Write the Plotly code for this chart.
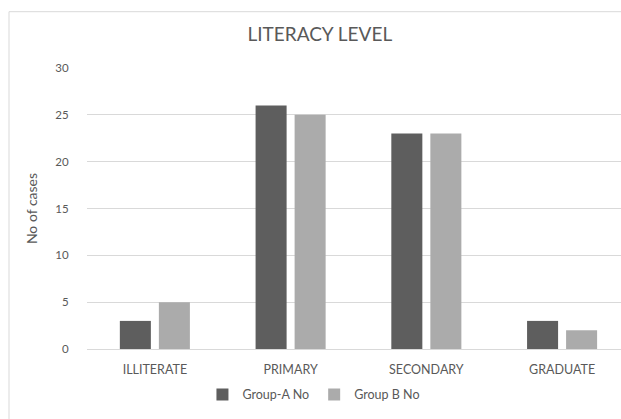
import plotly.graph_objects as go

categories = ["ILLITERATE", "PRIMARY", "SECONDARY", "GRADUATE"]
group_a = [3, 26, 23, 3]
group_b = [5, 25, 23, 2]
y_ticks = [0, 5, 10, 15, 20, 25, 30]

FONT = "Lato"
TXT = "#595959"

fig = go.Figure()
fig.add_trace(go.Bar(name="Group-A No", x=categories, y=group_a, marker_color="#5e5e5e", marker_line_width=0))
fig.add_trace(go.Bar(name="Group B No", x=categories, y=group_b, marker_color="#ababab", marker_line_width=0))

fig.update_layout(
    width=621, height=419,
    margin=dict(l=87, r=0, t=67.5, b=69.5, autoexpand=False),
    paper_bgcolor="white", plot_bgcolor="white",
    barmode="group", bargap=0.425, bargroupgap=0.205,
    font=dict(family=FONT, color=TXT, size=11),
    title=dict(text="LITERACY LEVEL", x=0.515, xref="container", xanchor="center",
               y=1 - 34 / 419, yref="container", yanchor="middle",
               font=dict(family=FONT, size=19, color=TXT)),
    xaxis=dict(type="category", range=[-0.5, 3.434], showgrid=False, showline=False,
               ticks="outside", ticklen=9, tickcolor="rgba(0,0,0,0)",
               tickfont=dict(size=12.5, color=TXT)),
    yaxis=dict(range=[0, 30], tickvals=y_ticks, showgrid=True, gridcolor="#d9d9d9", gridwidth=1,
               zeroline=True, zerolinecolor="#d9d9d9", zerolinewidth=1, showline=False,
               ticks="outside", ticklen=15, tickcolor="rgba(0,0,0,0)",
               tickfont=dict(size=11.5, color=TXT),
               title=dict(text="No of cases", font=dict(size=14, color=TXT), standoff=14)),
    legend=dict(orientation="h", x=0.425, xanchor="center", y=-0.163, yanchor="middle",
                font=dict(size=12.5, color=TXT), itemwidth=30, traceorder="normal",
                bgcolor="rgba(0,0,0,0)"),
    showlegend=True,
)

# chart-area border (left and top edges visible in the reference)
bx0 = (9 - 87) / 534
by1 = 1 + (67.5 - 11) / 282
fig.add_shape(type="line", xref="paper", yref="paper", x0=bx0, x1=bx0, y0=-0.6, y1=by1,
              line=dict(color="#d9d9d9", width=1), layer="below")
fig.add_shape(type="line", xref="paper", yref="paper", x0=bx0, x1=1.0, y0=by1, y1=by1,
              line=dict(color="#d9d9d9", width=1), layer="below")

fig.write_html(
    "out.html",
    config={"displayModeBar": False},
    post_script="document.documentElement.style.overflow='hidden';document.body.style.overflow='hidden';document.body.style.margin='0';",
)
